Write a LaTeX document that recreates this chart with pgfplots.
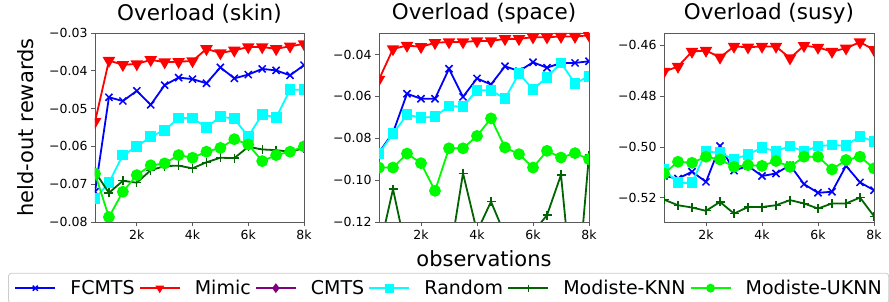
\documentclass[border=0pt]{standalone}
\usepackage{pgfplots}
\pgfplotsset{compat=1.18}
\usepackage{fontspec}
\setmainfont{DejaVu Sans}
\definecolor{cFC}{RGB}{0,0,255}
\definecolor{cMi}{RGB}{255,0,0}
\definecolor{cCM}{RGB}{128,0,128}
\definecolor{cRa}{RGB}{0,255,255}
\definecolor{cKN}{RGB}{0,100,0}
\definecolor{cUK}{RGB}{0,250,0}
\definecolor{spine}{RGB}{90,90,90}
\begin{document}
\begin{tikzpicture}
\useasboundingbox (0pt,0pt) rectangle (889pt,302pt);
\pgfplotsset{
  panel/.style={
    scale only axis, height=189pt,
    xmin=500, xmax=8000,
    xtick={2000,4000,6000,8000}, xticklabels={2k,4k,6k,8k},
    scaled y ticks=false, scaled x ticks=false,
    tick align=outside, xtick pos=bottom, ytick pos=left,
    major tick length=4pt,
    axis line style={color=spine, line width=0.9pt},
    tick style={color=spine, line width=0.8pt},
    tick label style={font=\fontsize{12.5}{15}\selectfont},
    title style={font=\fontsize{21.5}{25}\selectfont, at={(axis description cs:0.5,1)}, anchor=base, yshift=7pt},
    clip marker paths=true,
    every axis plot/.append style={line width=1.8pt},
    legend image code/.code={\draw[mark repeat=2,mark phase=2] plot coordinates {(0pt,0pt)(20pt,0pt)(40pt,0pt)};},
  },
  sFC/.style={color=cFC, mark=x, mark size=5pt, mark options={line width=1.5pt}},
  sMi/.style={color=cMi, mark=triangle*, mark size=5.5pt, mark options={rotate=180}},
  sCM/.style={color=cCM, mark=diamond*, mark size=5pt},
  sRa/.style={color=cRa, mark=square*, mark size=4.5pt},
  sKN/.style={color=cKN, mark=+, mark size=4.5pt, mark options={line width=1.3pt}},
  sUK/.style={color=cUK, mark=*, mark size=5pt},
}
% ---------------- panel 1 ----------------
\begin{axis}[panel, at={(95pt,80pt)}, anchor=south west, width=209pt,
  ymin=-0.08, ymax=-0.03,
  ytick={-0.08,-0.07,-0.06,-0.05,-0.04,-0.03},
  yticklabels={−0.08,−0.07,−0.06,−0.05,−0.04,−0.03},
  title={Overload (skin)},
  ylabel={held-out rewards},
  every axis y label/.style={at={(axis description cs:-0.33,0.5)}, rotate=90, anchor=center, font=\fontsize{21}{25}\selectfont},
  legend columns=6,
  legend image post style={mark size=3.6pt, line width=1.6pt},
  legend style={at={(axis description cs:1.692,-0.35)}, anchor=center,
    draw=black!20, line width=0.8pt, rounded corners=3pt, fill=white,
    font=\fontsize{19}{22}\selectfont,
    inner xsep=6pt, inner ysep=6pt,
    nodes={inner sep=1pt},
    /tikz/every odd column/.append style={column sep=13.3pt},
    /tikz/every even column/.append style={column sep=3.3pt}},
]
\addplot[sFC] coordinates {(500,-0.0720)(1000,-0.0470)(1500,-0.0480)(2000,-0.0453)(2500,-0.0490)(3000,-0.0438)(3500,-0.0418)(4000,-0.0422)(4500,-0.0433)(5000,-0.0391)(5500,-0.0420)(6000,-0.0410)(6500,-0.0395)(7000,-0.0399)(7500,-0.0412)(8000,-0.0385)};
\addlegendentry{FCMTS}
\addplot[sMi] coordinates {(500,-0.0535)(1000,-0.0373)(1500,-0.0384)(2000,-0.0382)(2500,-0.0371)(3000,-0.0377)(3500,-0.0376)(4000,-0.0374)(4500,-0.0342)(5000,-0.0353)(5500,-0.0346)(6000,-0.0337)(6500,-0.0337)(7000,-0.0342)(7500,-0.0335)(8000,-0.0329)};
\addlegendentry{Mimic}
\addlegendimage{sCM, line width=1.8pt}
\addlegendentry{CMTS}
\addplot[sRa] coordinates {(500,-0.0738)(1000,-0.0696)(1500,-0.0623)(2000,-0.0601)(2500,-0.0574)(3000,-0.0557)(3500,-0.0525)(4000,-0.0525)(4500,-0.0550)(5000,-0.0521)(5500,-0.0527)(6000,-0.0574)(6500,-0.0515)(7000,-0.0524)(7500,-0.0450)(8000,-0.0450)};
\addlegendentry{Random}
\addplot[sKN] coordinates {(500,-0.0667)(1000,-0.0723)(1500,-0.0691)(2000,-0.0696)(2500,-0.0663)(3000,-0.0652)(3500,-0.0651)(4000,-0.0658)(4500,-0.0642)(5000,-0.0630)(5500,-0.0631)(6000,-0.0601)(6500,-0.0608)(7000,-0.0610)(7500,-0.0614)(8000,-0.0605)};
\addlegendentry{Modiste-KNN}
\addplot[sUK] coordinates {(500,-0.0672)(1000,-0.0787)(1500,-0.0720)(2000,-0.0676)(2500,-0.0650)(3000,-0.0645)(3500,-0.0623)(4000,-0.0630)(4500,-0.0614)(5000,-0.0604)(5500,-0.0581)(6000,-0.0595)(6500,-0.0639)(7000,-0.0623)(7500,-0.0614)(8000,-0.0600)};
\addlegendentry{Modiste-UKNN}
\end{axis}
% ---------------- panel 2 ----------------
\begin{axis}[panel, at={(379pt,80pt)}, anchor=south west, width=210pt,
  ymin=-0.12, ymax=-0.0297,
  ytick={-0.12,-0.10,-0.08,-0.06,-0.04},
  yticklabels={−0.12,−0.10,−0.08,−0.06,−0.04},
  title={Overload (space)},
  xlabel={observations},
  every axis x label/.style={at={(axis description cs:0.5,-0.238)}, anchor=base, font=\fontsize{21}{25}\selectfont},
]
\addplot[sFC] coordinates {(500,-0.0868)(1000,-0.0773)(1500,-0.0587)(2000,-0.0611)(2500,-0.0611)(3000,-0.0468)(3500,-0.0602)(4000,-0.0514)(4500,-0.0543)(5000,-0.0456)(5500,-0.0479)(6000,-0.0437)(6500,-0.0463)(7000,-0.0440)(7500,-0.0440)(8000,-0.0432)};
\addplot[sMi] coordinates {(500,-0.0519)(1000,-0.0373)(1500,-0.0357)(2000,-0.0363)(2500,-0.0344)(3000,-0.0340)(3500,-0.0340)(4000,-0.0335)(4500,-0.0335)(5000,-0.0325)(5500,-0.0325)(6000,-0.0317)(6500,-0.0317)(7000,-0.0314)(7500,-0.0314)(8000,-0.0308)};
\addplot[sRa] coordinates {(500,-0.0873)(1000,-0.0778)(1500,-0.0687)(2000,-0.0702)(2500,-0.0697)(3000,-0.0646)(3500,-0.0649)(4000,-0.0570)(4500,-0.0571)(5000,-0.0611)(5500,-0.0490)(6000,-0.0567)(6500,-0.0508)(7000,-0.0440)(7500,-0.0538)(8000,-0.0503)};
\addplot[sKN] coordinates {(500,-0.1340)(1000,-0.1043)(1500,-0.1354)(2000,-0.1320)(2500,-0.1300)(3000,-0.1387)(3500,-0.0967)(4000,-0.1246)(4500,-0.1103)(5000,-0.1262)(5500,-0.1300)(6000,-0.1250)(6500,-0.1167)(7000,-0.0975)(7500,-0.1660)(8000,-0.0880)};
\addplot[sUK] coordinates {(500,-0.0940)(1000,-0.0940)(1500,-0.0873)(2000,-0.0919)(2500,-0.1051)(3000,-0.0848)(3500,-0.0848)(4000,-0.0789)(4500,-0.0705)(5000,-0.0844)(5500,-0.0876)(6000,-0.0940)(6500,-0.0860)(7000,-0.0892)(7500,-0.0871)(8000,-0.0900)};
\end{axis}
% ---------------- panel 3 ----------------
\begin{axis}[panel, at={(664pt,80pt)}, anchor=south west, width=210pt,
  ymin=-0.5295, ymax=-0.4551,
  ytick={-0.52,-0.50,-0.48,-0.46},
  yticklabels={−0.52,−0.50,−0.48,−0.46},
  title={Overload (susy)},
]
\addplot[sFC] coordinates {(500,-0.5114)(1000,-0.5124)(1500,-0.5097)(2000,-0.5137)(2500,-0.4996)(3000,-0.5093)(3500,-0.5074)(4000,-0.5114)(4500,-0.5104)(5000,-0.5071)(5500,-0.5146)(6000,-0.5180)(6500,-0.5176)(7000,-0.5074)(7500,-0.5139)(8000,-0.5170)};
\addplot[sMi] coordinates {(500,-0.4703)(1000,-0.4683)(1500,-0.4624)(2000,-0.4620)(2500,-0.4647)(3000,-0.4604)(3500,-0.4607)(4000,-0.4604)(4500,-0.4604)(5000,-0.4650)(5500,-0.4601)(6000,-0.4608)(6500,-0.4624)(7000,-0.4611)(7500,-0.4587)(8000,-0.4617)};
\addplot[sRa] coordinates {(500,-0.5088)(1000,-0.5141)(1500,-0.5141)(2000,-0.5018)(2500,-0.5022)(3000,-0.5049)(3500,-0.5029)(4000,-0.5003)(4500,-0.5016)(5000,-0.4996)(5500,-0.5018)(6000,-0.4996)(6500,-0.4992)(7000,-0.4995)(7500,-0.4957)(8000,-0.4979)};
\addplot[sKN] coordinates {(500,-0.5207)(1000,-0.5229)(1500,-0.5238)(2000,-0.5251)(2500,-0.5216)(3000,-0.5262)(3500,-0.5236)(4000,-0.5236)(4500,-0.5229)(5000,-0.5209)(5500,-0.5222)(6000,-0.5242)(6500,-0.5222)(7000,-0.5222)(7500,-0.5199)(8000,-0.5272)};
\addplot[sUK] coordinates {(500,-0.5104)(1000,-0.5058)(1500,-0.5062)(2000,-0.5038)(2500,-0.5049)(3000,-0.5078)(3500,-0.5071)(4000,-0.5074)(4500,-0.5055)(5000,-0.5078)(5500,-0.5038)(6000,-0.5038)(6500,-0.5088)(7000,-0.5051)(7500,-0.5038)(8000,-0.5084)};
\end{axis}
\end{tikzpicture}
\end{document}
